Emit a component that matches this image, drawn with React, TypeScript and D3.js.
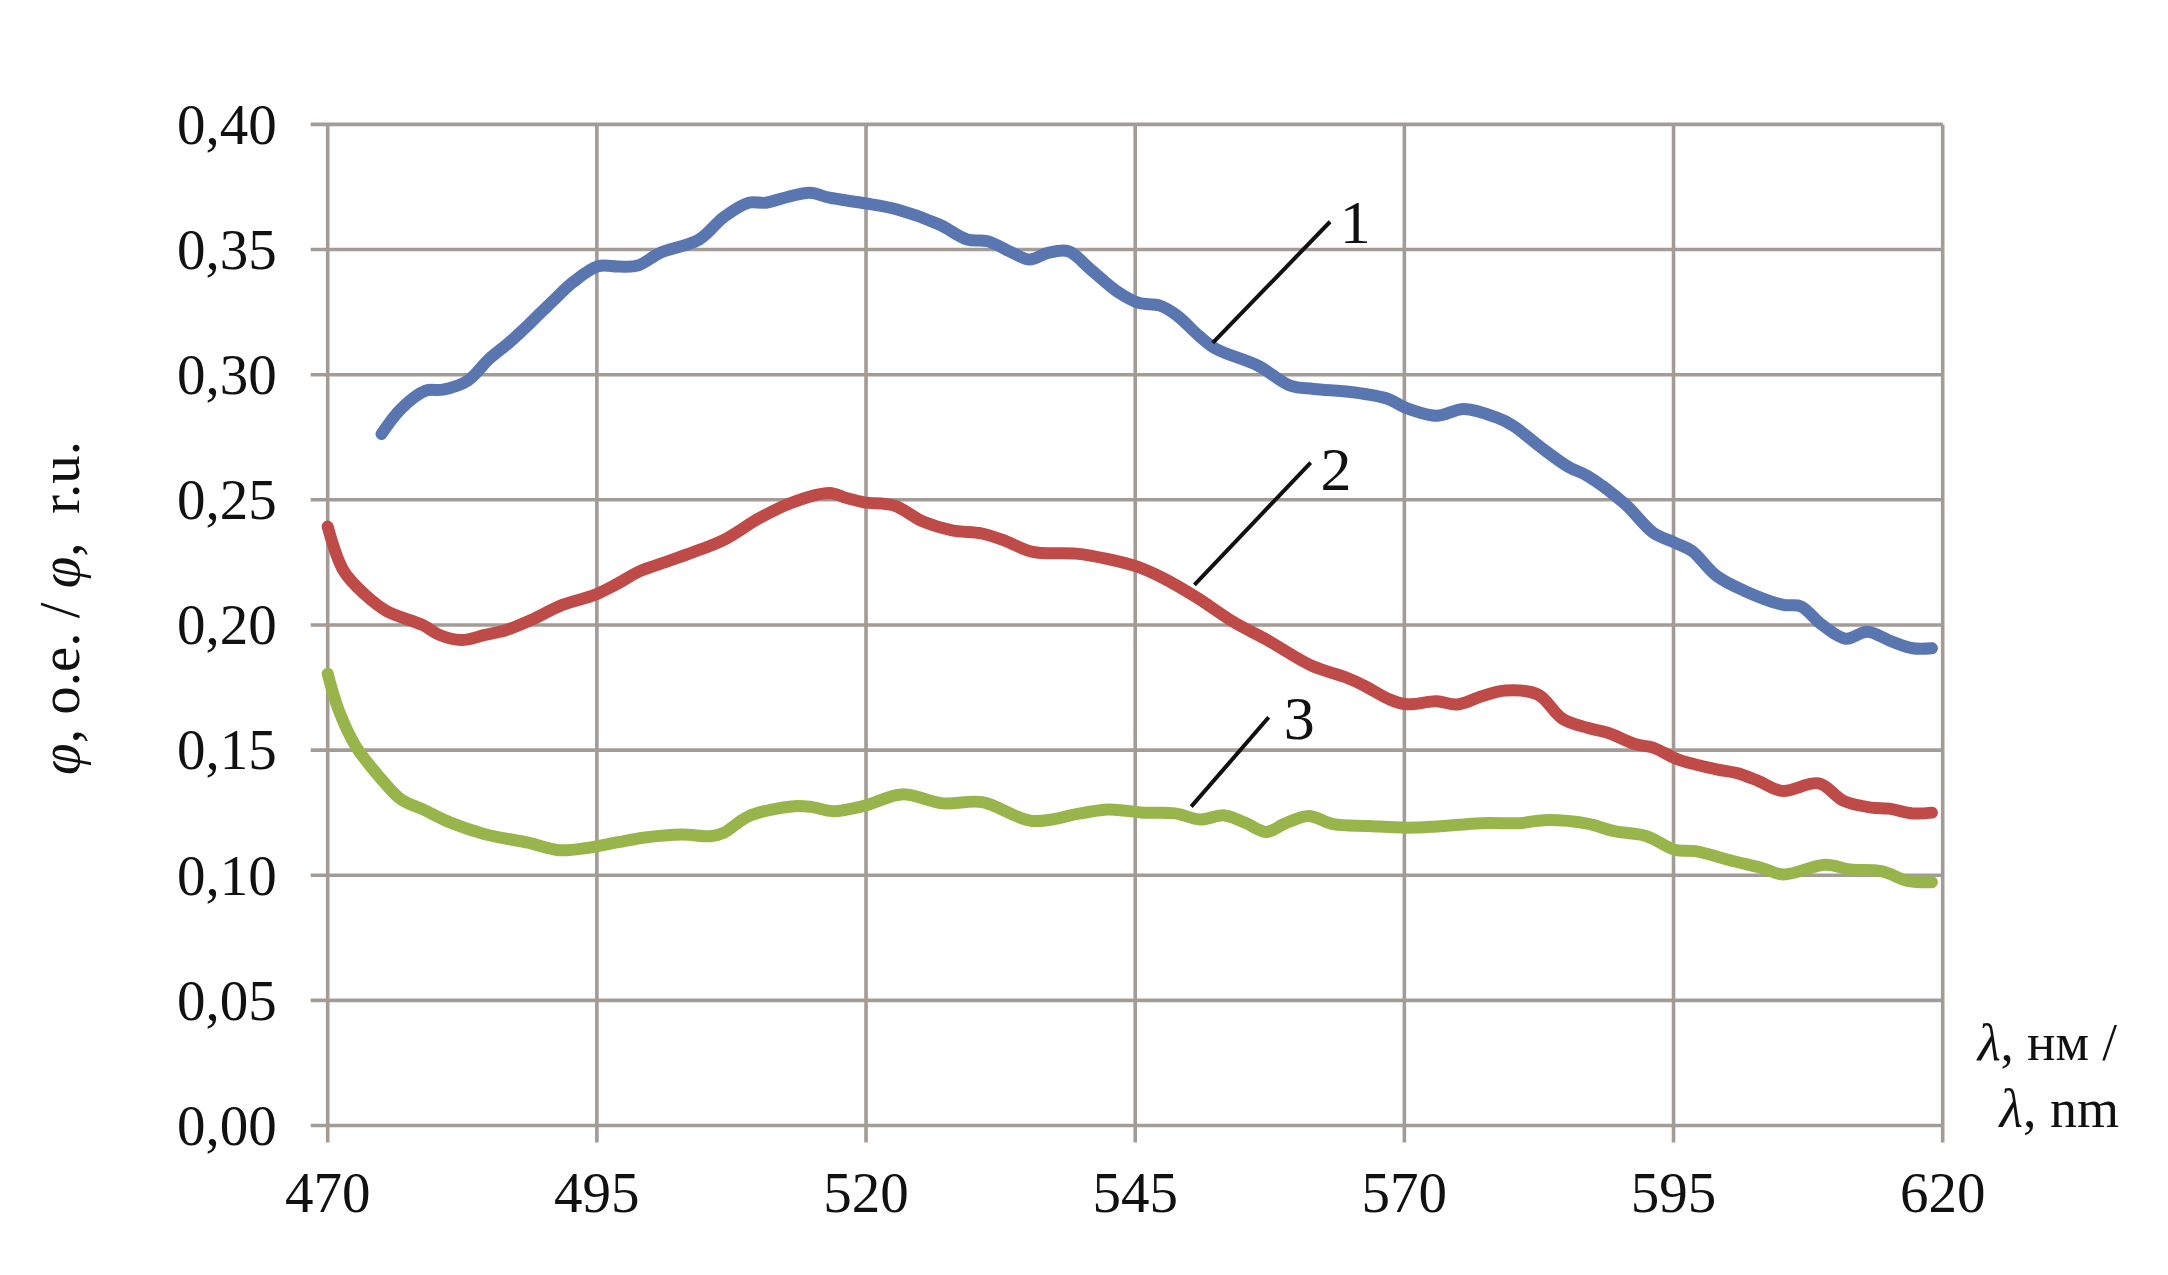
import React from "react";
import * as d3 from "d3";

const xTicks = [470, 495, 520, 545, 570, 595, 620];
const yTicks = [0, 0.05, 0.1, 0.15, 0.2, 0.25, 0.3, 0.35, 0.4];

const lambda1 = [475.0, 476.8, 479.1, 480.7, 483.0, 485.0, 486.9, 488.9, 490.8, 492.8, 495.1, 497.0, 498.8, 500.9, 504.5, 506.8, 509.1, 510.7, 512.7, 514.8, 516.6, 519.7, 522.9, 526.8, 529.4, 531.3, 533.6, 535.2, 536.9, 538.8, 540.8, 543.4, 545.3, 547.3, 548.9, 550.9, 552.5, 556.4, 559.4, 561.6, 565.2, 568.5, 570.0, 573.0, 575.5, 578.5, 580.1, 582.7, 585.3, 587.0, 590.5, 593.1, 595.1, 596.7, 599.0, 601.6, 605.2, 606.8, 608.8, 611.0, 613.0, 615.3, 617.2, 619.0];
const phi1 = [0.2763, 0.2863, 0.2936, 0.294, 0.2976, 0.3063, 0.313, 0.321, 0.329, 0.337, 0.3433, 0.3432, 0.3436, 0.3487, 0.354, 0.363, 0.3687, 0.3687, 0.371, 0.3727, 0.3707, 0.3686, 0.366, 0.36, 0.354, 0.3533, 0.3487, 0.346, 0.3487, 0.3493, 0.3423, 0.333, 0.3287, 0.3276, 0.3236, 0.3156, 0.3103, 0.3036, 0.2956, 0.2943, 0.293, 0.2903, 0.287, 0.2836, 0.2863, 0.283, 0.2796, 0.2709, 0.263, 0.2596, 0.2483, 0.2369, 0.2329, 0.2296, 0.2196, 0.2136, 0.208, 0.2075, 0.2, 0.1945, 0.1973, 0.1933, 0.1907, 0.1907];

const lambda2 = [470.0, 471.5, 473.5, 475.5, 478.8, 480.4, 482.4, 484.6, 486.6, 488.9, 491.8, 494.8, 496.7, 499.0, 500.6, 503.9, 506.8, 510.1, 513.0, 516.6, 518.2, 519.8, 522.6, 525.3, 528.0, 530.7, 532.7, 535.5, 539.5, 542.5, 545.2, 547.6, 550.7, 554.2, 557.1, 561.4, 564.6, 566.3, 568.6, 570.2, 573.0, 574.9, 577.2, 579.4, 582.4, 584.7, 587.0, 588.9, 591.5, 593.1, 595.4, 599.0, 601.0, 602.9, 605.1, 608.5, 610.8, 613.4, 615.0, 617.2, 619.0];
const phi2 = [0.2393, 0.2215, 0.212, 0.2055, 0.2, 0.196, 0.194, 0.196, 0.198, 0.202, 0.208, 0.212, 0.216, 0.2215, 0.224, 0.229, 0.234, 0.2427, 0.2487, 0.2527, 0.2507, 0.249, 0.2477, 0.2413, 0.2378, 0.2366, 0.234, 0.2292, 0.2285, 0.2263, 0.2233, 0.2187, 0.211, 0.201, 0.1944, 0.1837, 0.179, 0.1757, 0.1703, 0.1683, 0.1695, 0.1682, 0.1715, 0.1738, 0.1722, 0.1625, 0.1589, 0.1569, 0.1523, 0.151, 0.1463, 0.1423, 0.1407, 0.1376, 0.1337, 0.1367, 0.1297, 0.127, 0.1266, 0.1247, 0.125];

const lambda3 = [470.0, 471.0, 472.6, 474.6, 476.8, 478.8, 481.4, 484.7, 488.6, 491.5, 494.1, 497.0, 499.3, 502.9, 505.5, 506.8, 509.1, 513.3, 514.9, 516.9, 519.9, 523.3, 527.2, 530.8, 535.4, 539.9, 542.5, 545.8, 548.7, 551.0, 553.3, 555.2, 557.2, 558.8, 561.1, 563.4, 566.6, 570.2, 573.0, 577.2, 580.7, 583.0, 587.0, 589.5, 592.5, 595.1, 597.0, 600.6, 603.2, 605.2, 609.1, 611.4, 614.3, 616.9, 619.0];
const phi3 = [0.1805, 0.1662, 0.1516, 0.1403, 0.1303, 0.1264, 0.121, 0.1163, 0.113, 0.11, 0.1109, 0.1132, 0.115, 0.1163, 0.1156, 0.117, 0.1236, 0.1276, 0.1273, 0.1256, 0.1278, 0.1323, 0.1287, 0.1292, 0.1217, 0.1247, 0.1263, 0.125, 0.1247, 0.1223, 0.1239, 0.121, 0.1173, 0.1204, 0.1237, 0.1204, 0.1197, 0.119, 0.1195, 0.1208, 0.1208, 0.122, 0.1206, 0.1176, 0.1156, 0.1102, 0.1096, 0.1056, 0.1029, 0.1003, 0.1042, 0.1023, 0.1016, 0.0976, 0.0972];

const seriesColors = ["#5a76b0", "#be4b48", "#98b54c"];

// leader lines: [lambdaStart, phiStart, lambdaEnd, phiEnd], label position [lambda, phi]
const leaderNames = ["1", "2", "3"];
const leaderLines = [
  [552.2, 0.3127, 563.1, 0.3611],
  [550.5, 0.216, 561.3, 0.2649],
  [550.2, 0.1274, 557.4, 0.1631],
];
const leaderLabelPos = [
  [564.0, 0.3527],
  [562.2, 0.254],
  [558.8, 0.1545],
];

const W = 2168;
const H = 1275;
const margin = { left: 327.7, right: W - 1942.7, top: 124.4, bottom: H - 1125.5 };

export default function App() {
  const x = d3.scaleLinear().domain([470, 620]).range([margin.left, W - margin.right]);
  const y = d3.scaleLinear().domain([0, 0.4]).range([H - margin.bottom, margin.top]);
  const fmt = (v: number) => d3.format(".2f")(v).replace(".", ",");

  const line = d3
    .line<[number, number]>()
    .x((d) => x(d[0]))
    .y((d) => y(d[1]))
    .curve(d3.curveCatmullRom.alpha(0.5));

  const series = [
    d3.zip(lambda1, phi1) as [number, number][],
    d3.zip(lambda2, phi2) as [number, number][],
    d3.zip(lambda3, phi3) as [number, number][],
  ];

  const gridColor = "#a29b96";
  const gridW = 3.6;
  const tickLen = 17;
  const font = "'Liberation Serif', 'Times New Roman', serif";
  const x0 = x(470);
  const x1 = x(620);
  const y0 = y(0);
  const y1 = y(0.4);

  return (
    <svg
      width={W}
      height={H}
      style={{ position: "absolute", left: 0, top: 0, background: "#fff" }}
      fontFamily={font}
    >
      <rect x={0} y={0} width={W} height={H} fill="#fff" />
      {yTicks.map((t) => (
        <line key={"h" + t} x1={x0 - tickLen} x2={x1} y1={y(t)} y2={y(t)} stroke={gridColor} strokeWidth={gridW} />
      ))}
      {xTicks.map((t) => (
        <line key={"v" + t} x1={x(t)} x2={x(t)} y1={y1} y2={y0 + tickLen} stroke={gridColor} strokeWidth={gridW} />
      ))}
      {yTicks.map((t) => (
        <text key={"yl" + t} x={x0 - 51} y={y(t)} dy="0.34em" textAnchor="end" fontSize={57} fill="#111">
          {fmt(t)}
        </text>
      ))}
      {xTicks.map((t) => (
        <text key={"xl" + t} x={x(t)} y={y0 + 86} textAnchor="middle" fontSize={57} fill="#111">
          {t}
        </text>
      ))}
      {series.map((s, i) => (
        <path
          key={"s" + i}
          d={line(s) || ""}
          fill="none"
          stroke={seriesColors[i]}
          strokeWidth={12}
          strokeLinecap="round"
          strokeLinejoin="round"
        />
      ))}
      {leaderLines.map((l, i) => (
        <g key={"ld" + i}>
          <line x1={x(l[0])} y1={y(l[1])} x2={x(l[2])} y2={y(l[3])} stroke="#111" strokeWidth={4} />
          <text x={x(leaderLabelPos[i][0])} y={y(leaderLabelPos[i][1])} fontSize={62} fill="#111">
            {leaderNames[i]}
          </text>
        </g>
      ))}
      <text
        transform={`translate(${79}, ${608}) rotate(-90)`}
        textAnchor="middle"
        fontSize={57}
        fill="#111"
        xmlSpace="preserve"
      >
        <tspan fontStyle="italic">φ</tspan>
        <tspan>, о.е. / </tspan>
        <tspan fontStyle="italic">φ</tspan>
        <tspan>,  r.u.</tspan>
      </text>
      <text x={2117} y={1060} textAnchor="end" fontSize={53} fill="#111" xmlSpace="preserve">
        <tspan fontStyle="italic">λ</tspan>
        <tspan>, нм /</tspan>
      </text>
      <text x={2119} y={1127} textAnchor="end" fontSize={54} fill="#111" xmlSpace="preserve">
        <tspan fontStyle="italic">λ</tspan>
        <tspan>, nm</tspan>
      </text>
    </svg>
  );
}
